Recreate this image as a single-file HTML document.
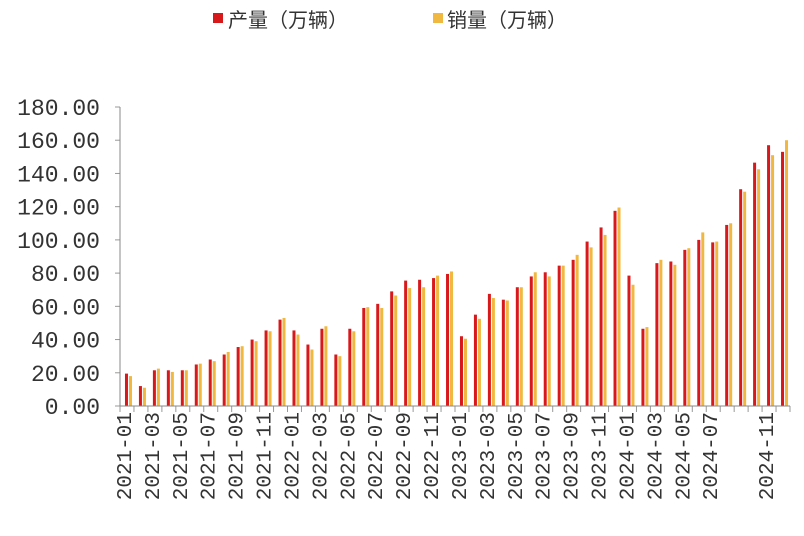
<!DOCTYPE html>
<html><head><meta charset="utf-8"><style>
body{margin:0;background:#fff;width:804px;height:531px;overflow:hidden}
svg text{font-family:"Liberation Mono","Noto Sans CJK SC",monospace;fill:#333}
</style></head><body>
<svg id="chart" width="804" height="531">
<g>
<rect x="213" y="13" width="10" height="10" fill="#d7191c"/>
<text x="228" y="27" font-size="20" style="font-family:'Noto Sans CJK SC',sans-serif">产量（万辆）</text>
<rect x="433" y="13" width="10" height="10" fill="#f0b840"/>
<text x="447" y="27" font-size="20" style="font-family:'Noto Sans CJK SC',sans-serif">销量（万辆）</text>
</g>
<g id="plot"></g>
</svg>
<script>
const months=[];for(let y=2021;y<=2024;y++)for(let m=1;m<=12;m++)months.push(y+'-'+String(m).padStart(2,'0'));
const production=[19.5,12,21.5,21.5,21.5,25,28,31,35.5,40,45.5,52,45.5,37,46.5,31,46.5,59,61.5,69,75.5,76,77,79.5,42,55,67.5,64,71.5,78,80.5,84.5,88,99,107.5,117.5,78.5,46.5,86,87,94,100,98.5,109,130.5,146.5,157,153];
const sales=[18,11,22.5,20.5,21.5,25.5,27,32.5,36,39,45,53,43,34,48,30,45,59.5,59,66.5,71,71.5,78.5,81,40.5,52.5,65,63.5,71.5,80.5,78,84.5,91,95.5,103,119.5,73,47.5,88,85,95,104.5,99,110,129,142.5,151,160];
const yTicks=[0,20,40,60,80,100,120,140,160,180];
const xLabels=['2021-01','2021-03','2021-05','2021-07','2021-09','2021-11','2022-01','2022-03','2022-05','2022-07','2022-09','2022-11','2023-01','2023-03','2023-05','2023-07','2023-09','2023-11','2024-01','2024-03','2024-05','2024-07','2024-11'];
const L=120,R=790,T=107,B=406,N=months.length,slot=(R-L)/N;
const ys=v=>B-v/180*(B-T);
const xs=i=>L+slot*(i+0.5);
const g=document.getElementById('plot');const NS='http://www.w3.org/2000/svg';
function mk(t,a){const e=document.createElementNS(NS,t);for(const k in a)e.setAttribute(k,a[k]);g.appendChild(e);return e;}
yTicks.forEach(v=>{
 const t=mk('text',{x:100,y:ys(v)+8,'font-size':23,'text-anchor':'end'});t.textContent=v.toFixed(2);
 
 
 const k=mk('line',{x1:L-5,x2:L,y1:ys(v),y2:ys(v),stroke:'#999'});
 
 
});
months.forEach((m,i)=>{
 const r=mk('rect',{x:xs(i)-2,y:ys(production[i]),width:3,height:B-ys(production[i]),fill:'#d7191c'});
 
 
 const s=mk('rect',{x:xs(i)+2,y:ys(sales[i]),width:3,height:B-ys(sales[i]),fill:'#f0b840'});
 
 
});
for(let i=0;i<=N;i++){const k=mk('line',{x1:L+slot*i,x2:L+slot*i,y1:B,y2:B+6,stroke:'#999'});
 
 }
const ya=mk('line',{x1:L,x2:L,y1:T,y2:B,stroke:'#888'});


const xa=mk('line',{x1:L,x2:R,y1:B,y2:B,stroke:'#888'});


xLabels.forEach(lb=>{const i=months.indexOf(lb);const x=xs(i)+4;
 const t=mk('text',{x:x,y:412,'font-size':21,'text-anchor':'end',transform:`rotate(-90 ${x} 412)`});
 t.textContent=lb;
 
 });
</script>
</body></html>
